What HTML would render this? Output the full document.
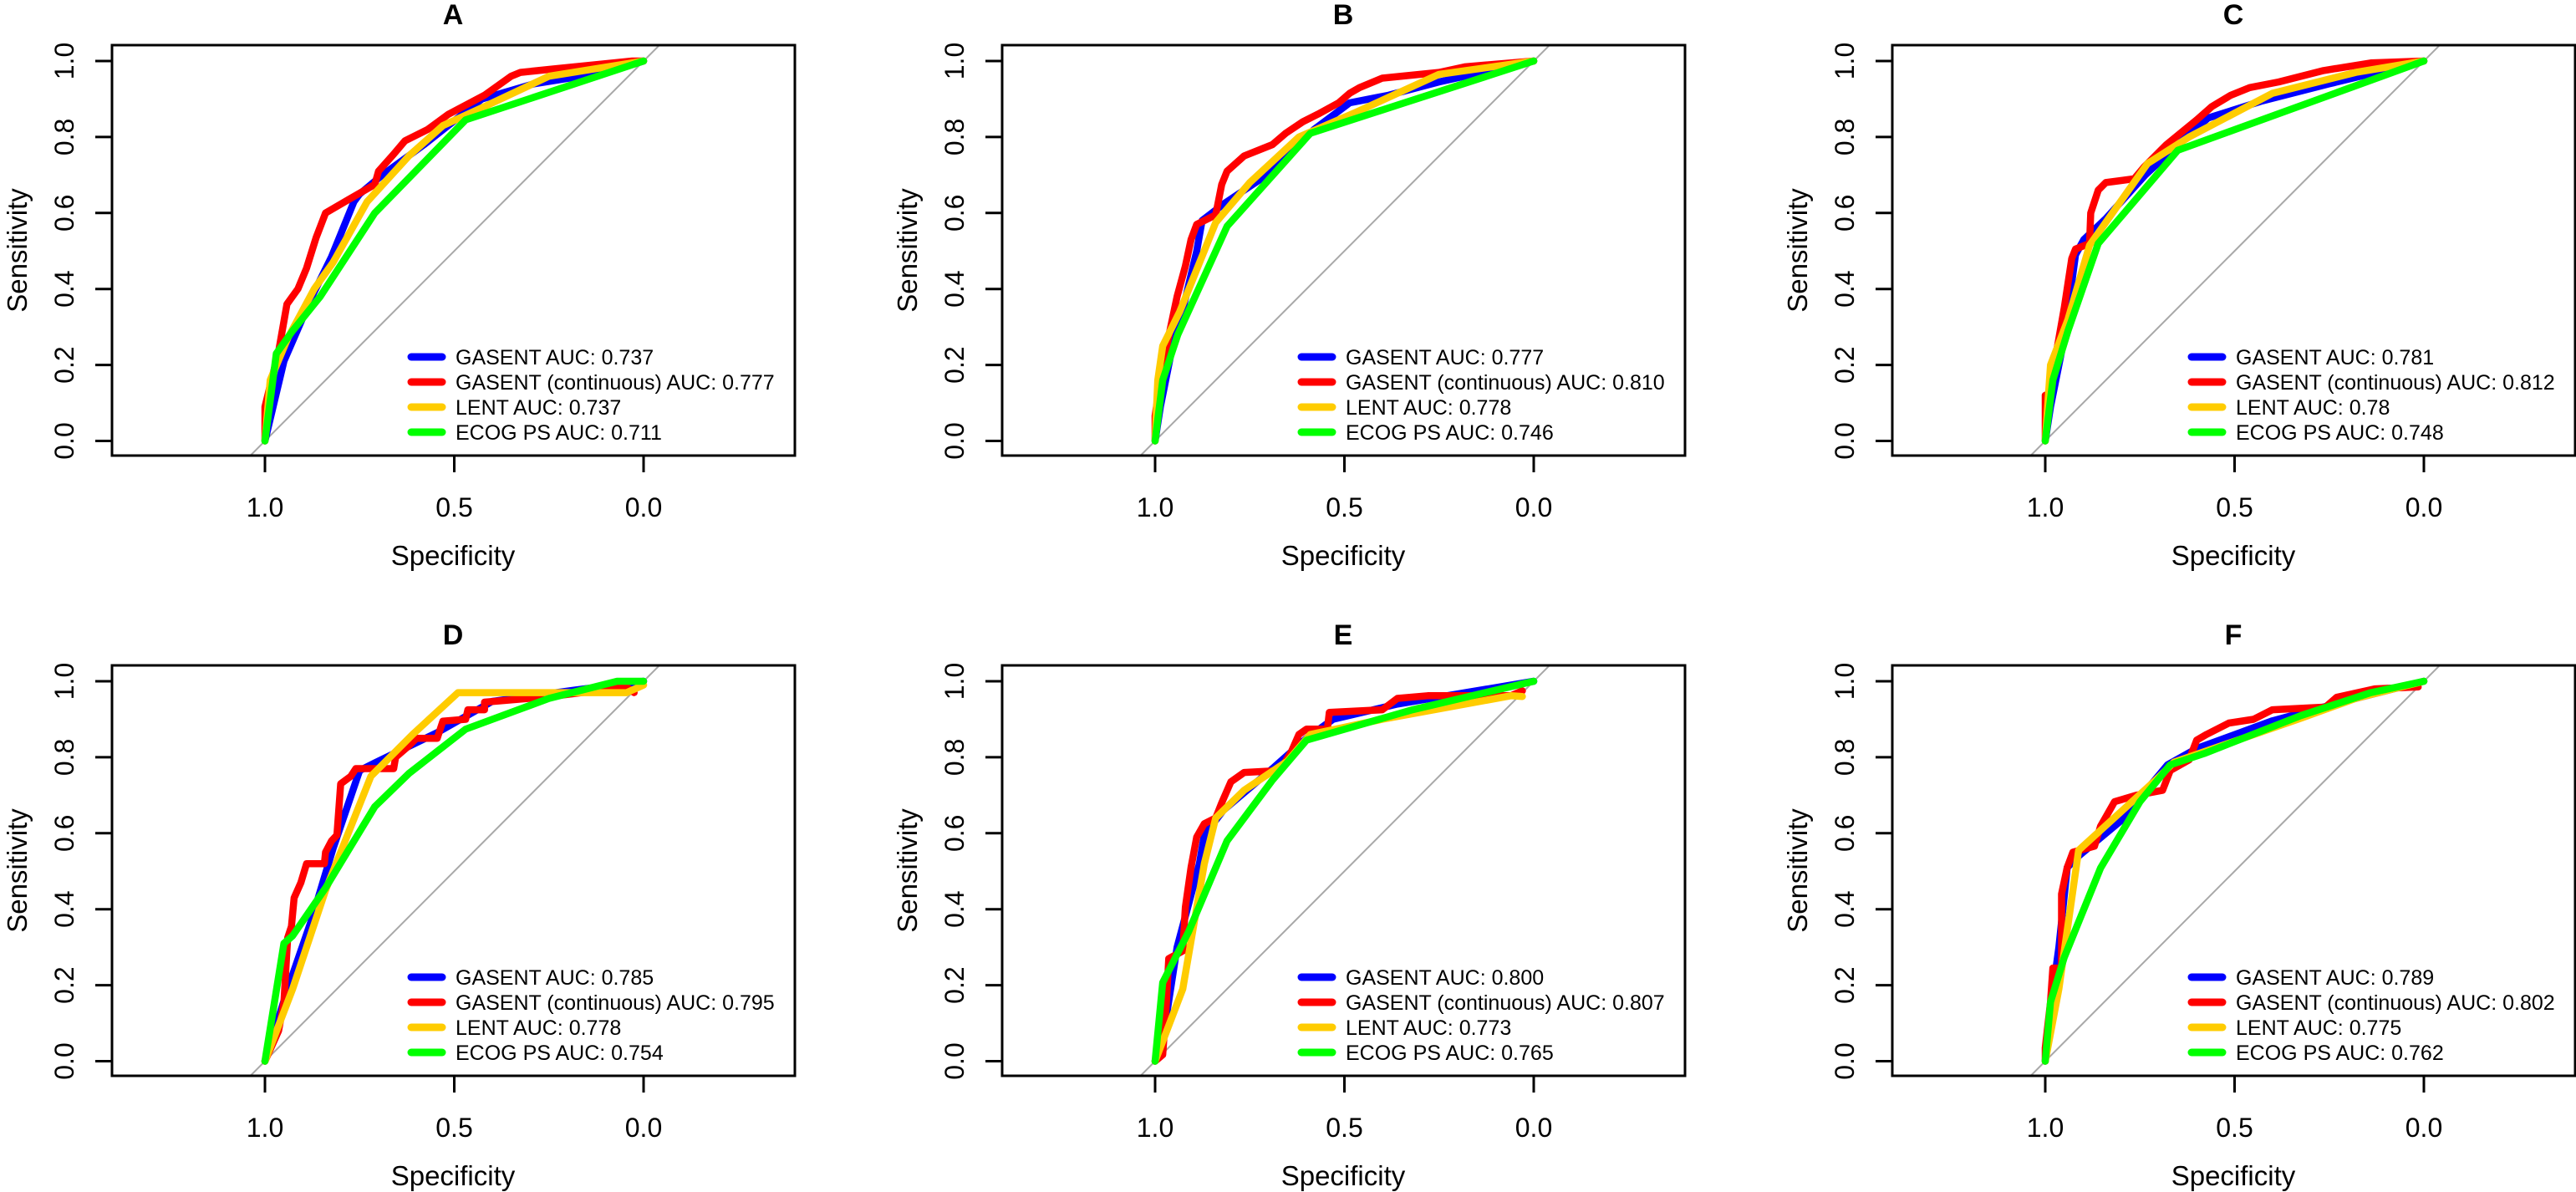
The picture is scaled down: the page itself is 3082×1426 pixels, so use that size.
<!DOCTYPE html>
<html><head><meta charset="utf-8"><style>
html,body{margin:0;padding:0;background:#fff;}
svg{display:block;}
text{font-family:"Liberation Sans",Arial,sans-serif;fill:#000;}
</style></head><body>
<svg id="fig" width="3082" height="1426" viewBox="0 0 3082 1426" xmlns="http://www.w3.org/2000/svg"></svg>
<script>
// Panel titles and legend labels
const panelTitles = ["A","B","C","D","E","F"];
const seriesNames = ["GASENT","GASENT (continuous)","LENT","ECOG PS"];
const seriesColors = ["#0000ff","#ff0000","#ffcc00","#00ff00"];
const aucLabels = [
  ["0.737","0.777","0.737","0.711"],
  ["0.777","0.810","0.778","0.746"],
  ["0.781","0.812","0.78","0.748"],
  ["0.785","0.795","0.778","0.754"],
  ["0.800","0.807","0.773","0.765"],
  ["0.789","0.802","0.775","0.762"]
];
const xTickValues = [1.0, 0.5, 0.0];
const xTickLabels = ["1.0","0.5","0.0"];
const yTickValues = [0,0.2,0.4,0.6,0.8,1.0];
const yTickLabels = ["0.0","0.2","0.4","0.6","0.8","1.0"];

// ROC curves: false-positive rate (1 - specificity) and sensitivity
const fprA = [
 [0,.05,.124,.176,.235,.25,.31,.42,.573,.71,.90,1],
 [0,0,.036,.058,.087,.11,.135,.16,.22,.29,.30,.34,.37,.43,.485,.58,.65,.675,.77,.97,1],
 [0,.014,.06,.13,.18,.27,.38,.47,.58,.75,1],
 [0,.03,.073,.146,.29,.53,1]];
const sensA = [
 [0,.21,.38,.485,.63,.65,.70,.78,.90,.94,.97,1],
 [0,.09,.235,.36,.40,.455,.535,.60,.635,.675,.71,.755,.79,.82,.86,.91,.96,.97,.98,1,1],
 [0,.16,.27,.40,.47,.63,.75,.83,.88,.96,1],
 [0,.23,.29,.38,.60,.845,1]];
const fprB = [
 [0,.014,.043,.073,.11,.124,.183,.31,.42,.514,.617,.75,1],
 [0,0,.02,.058,.08,.095,.11,.16,.176,.19,.235,.31,.345,.39,.43,.485,.514,.54,.60,.75,.82,1],
 [0,.007,.02,.065,.16,.25,.38,.53,.75,1],
 [0,.02,.06,.19,.41,1]];
const sensB = [
 [0,.09,.235,.345,.50,.58,.625,.71,.82,.89,.91,.945,1],
 [0,.066,.2,.38,.46,.53,.57,.595,.675,.71,.75,.78,.81,.84,.86,.89,.915,.93,.955,.97,.985,1],
 [0,.16,.25,.34,.575,.68,.80,.865,.965,1],
 [0,.16,.28,.565,.81,1]];
const fprC = [
 [0,.014,.05,.08,.102,.16,.264,.35,.43,.573,.75,1],
 [0,0,.01,.036,.05,.07,.08,.117,.12,.14,.16,.235,.26,.29,.32,.40,.44,.49,.54,.617,.735,.86,1],
 [0,.014,.06,.117,.27,.38,.60,.82,1],
 [0,.02,.06,.14,.35,1]];
const sensC = [
 [0,.09,.27,.49,.53,.585,.70,.78,.85,.895,.94,1],
 [0,.12,.125,.27,.35,.48,.505,.52,.60,.66,.68,.69,.72,.75,.78,.845,.88,.91,.93,.945,.975,.995,1],
 [0,.2,.32,.515,.73,.80,.915,.97,1],
 [0,.16,.29,.52,.765,1]];
const fprD = [
 [0,.06,.124,.18,.25,.29,.455,.60,.82,1],
 [0,.036,.05,.06,.07,.077,.095,.11,.157,.16,.176,.19,.20,.227,.24,.34,.345,.38,.40,.455,.47,.53,.536,.58,.58,.757,.955,.975],
 [0,.073,.16,.28,.39,.51,.955,1],
 [0,.05,.073,.16,.29,.38,.53,.75,.93,1]];
const sensD = [
 [0,.19,.375,.56,.765,.785,.865,.947,.977,1],
 [0,.08,.155,.325,.355,.43,.47,.52,.52,.55,.58,.595,.73,.75,.77,.77,.80,.83,.85,.85,.895,.90,.925,.925,.945,.96,.985,.97],
 [0,.19,.45,.75,.86,.97,.97,.99],
 [0,.31,.33,.456,.67,.757,.874,.955,1,1]];
const fprE = [
 [0,.03,.058,.117,.13,.18,.31,.40,.47,.64,.82,1],
 [0,.02,.03,.036,.073,.08,.095,.11,.13,.16,.176,.2,.235,.33,.36,.38,.40,.455,.46,.60,.64,.72,.94,.97],
 [0,.073,.13,.16,.235,.35,.41,.60,.94,.97],
 [0,.02,.088,.19,.31,.40,.68,1]];
const sensE = [
 [0,.12,.30,.52,.595,.66,.77,.85,.90,.94,.97,1],
 [0,.017,.156,.27,.29,.405,.51,.59,.625,.64,.68,.735,.76,.765,.815,.86,.874,.874,.918,.925,.955,.962,.962,.975],
 [0,.19,.52,.64,.713,.79,.86,.90,.962,.96],
 [0,.207,.34,.58,.74,.845,.925,1]];
const fprF = [
 [0,.014,.036,.058,.088,.2,.323,.40,.60,.82,1],
 [0,0,.014,.02,.043,.043,.058,.073,.13,.146,.183,.24,.31,.33,.38,.40,.426,.485,.55,.60,.74,.77,.87,.985],
 [0,.036,.088,.1,.294,.34,.676,.82,1],
 [0,.014,.05,.146,.25,.33,.42,.676,.86,1]];
const sensF = [
 [0,.14,.30,.51,.54,.633,.78,.823,.896,.955,1],
 [0,.035,.156,.245,.245,.44,.51,.55,.566,.618,.683,.70,.713,.765,.793,.845,.86,.89,.90,.925,.932,.958,.98,.985],
 [0,.19,.555,.566,.742,.787,.903,.955,1],
 [0,.156,.273,.508,.683,.78,.81,.91,.97,1]];
const allFpr = [fprA,fprB,fprC,fprD,fprE,fprF];
const allSens = [sensA,sensB,sensC,sensD,sensE,sensF];

const NS = "http://www.w3.org/2000/svg";
const svg = document.getElementById("fig");
function mk(tag, attrs, parent){
  const e = document.createElementNS(NS, tag);
  for (const k in attrs) e.setAttribute(k, attrs[k]);
  (parent||svg).appendChild(e);
  return e;
}
const colOff = [0,1065,2130], rowOff = [0,742];
const BOX_L = 134, BOX_W = 817, BOX_T = 54, BOX_H = 491;
const X1 = 317, XPER = 453;
const Y0OFF = 473.5, YPER = 454.5;

for (let p = 0; p < 6; p++) {
  const ox = colOff[p%3], oy = rowOff[Math.floor(p/3)];
  const xs = spec => ox + X1 + (1 - spec) * XPER;
  const ys = sens => oy + BOX_T + Y0OFF - sens * YPER;
  const g = mk("g", {});
  
  

  const title = mk("text", {x: ox + 542, y: oy + 29, "text-anchor":"middle", "font-size":34, "font-weight":"bold"}, g);
  title.textContent = panelTitles[p];
  
  

  const clipId = "clip" + p;
  const cp = mk("clipPath", {id: clipId}, g);
  mk("rect", {x: ox + BOX_L, y: oy + BOX_T, width: BOX_W, height: BOX_H}, cp);

  const diag = mk("line", {x1: xs(1.1), y1: ys(-0.1), x2: xs(-0.1), y2: ys(1.1), stroke:"#a8a8a8", "stroke-width":2, "clip-path":"url(#"+clipId+")"}, g);
  
  

  for (let s = 0; s < 4; s++) {
    const f = allFpr[p][s], se = allSens[p][s];
    let d = "";
    for (let i = 0; i < f.length; i++) d += (i ? "L" : "M") + xs(1 - f[i]).toFixed(1) + " " + ys(se[i]).toFixed(1);
    const path = mk("path", {d: d, fill:"none", stroke: seriesColors[s], "stroke-width":8.5, "stroke-linejoin":"round", "stroke-linecap":"round", "clip-path":"url(#"+clipId+")"}, g);
    
    
  }

  const box = mk("rect", {x: ox + BOX_L, y: oy + BOX_T, width: BOX_W, height: BOX_H, fill:"none", stroke:"#000", "stroke-width":3}, g);
  
  

  for (let i = 0; i < yTickValues.length; i++) {
    const y = ys(yTickValues[i]);
    const t = mk("line", {x1: ox + BOX_L - 20, x2: ox + BOX_L, y1: y, y2: y, stroke:"#000", "stroke-width":3}, g);
    
    
    const lb = mk("text", {x: 0, y: 0, "text-anchor":"middle", "font-size":32, transform:"translate(" + (ox + 88) + "," + y + ") rotate(-90)"}, g);
    lb.textContent = yTickLabels[i];
    
    
  }
  const yt = mk("text", {x:0, y:0, "text-anchor":"middle", "font-size":33, transform:"translate(" + (ox + 32) + "," + (oy + BOX_T + BOX_H/2) + ") rotate(-90)"}, g);
  yt.textContent = "Sensitivity";
  
  

  for (let i = 0; i < xTickValues.length; i++) {
    const x = xs(xTickValues[i]);
    const t = mk("line", {x1: x, x2: x, y1: oy + BOX_T + BOX_H, y2: oy + BOX_T + BOX_H + 20, stroke:"#000", "stroke-width":3}, g);
    
    
    const lb = mk("text", {x: x, y: oy + 618, "text-anchor":"middle", "font-size":32}, g);
    lb.textContent = xTickLabels[i];
    
    
  }
  const xt = mk("text", {x: ox + 542, y: oy + 676, "text-anchor":"middle", "font-size":33}, g);
  xt.textContent = "Specificity";
  
  

  const lg = mk("g", {}, g);
  
  
  for (let s = 0; s < 4; s++) {
    const cy = oy + BOX_T + 373 + s * 30;
    const ln = mk("line", {x1: ox + 492, x2: ox + 529, y1: cy, y2: cy, stroke: seriesColors[s], "stroke-width":9, "stroke-linecap":"round"}, lg);
    
    
    const tx = mk("text", {x: ox + 545, y: cy + 9, "font-size":25}, lg);
    tx.textContent = seriesNames[s] + " AUC: " + aucLabels[p][s];
    
    
  }
}
</script>
</body></html>
